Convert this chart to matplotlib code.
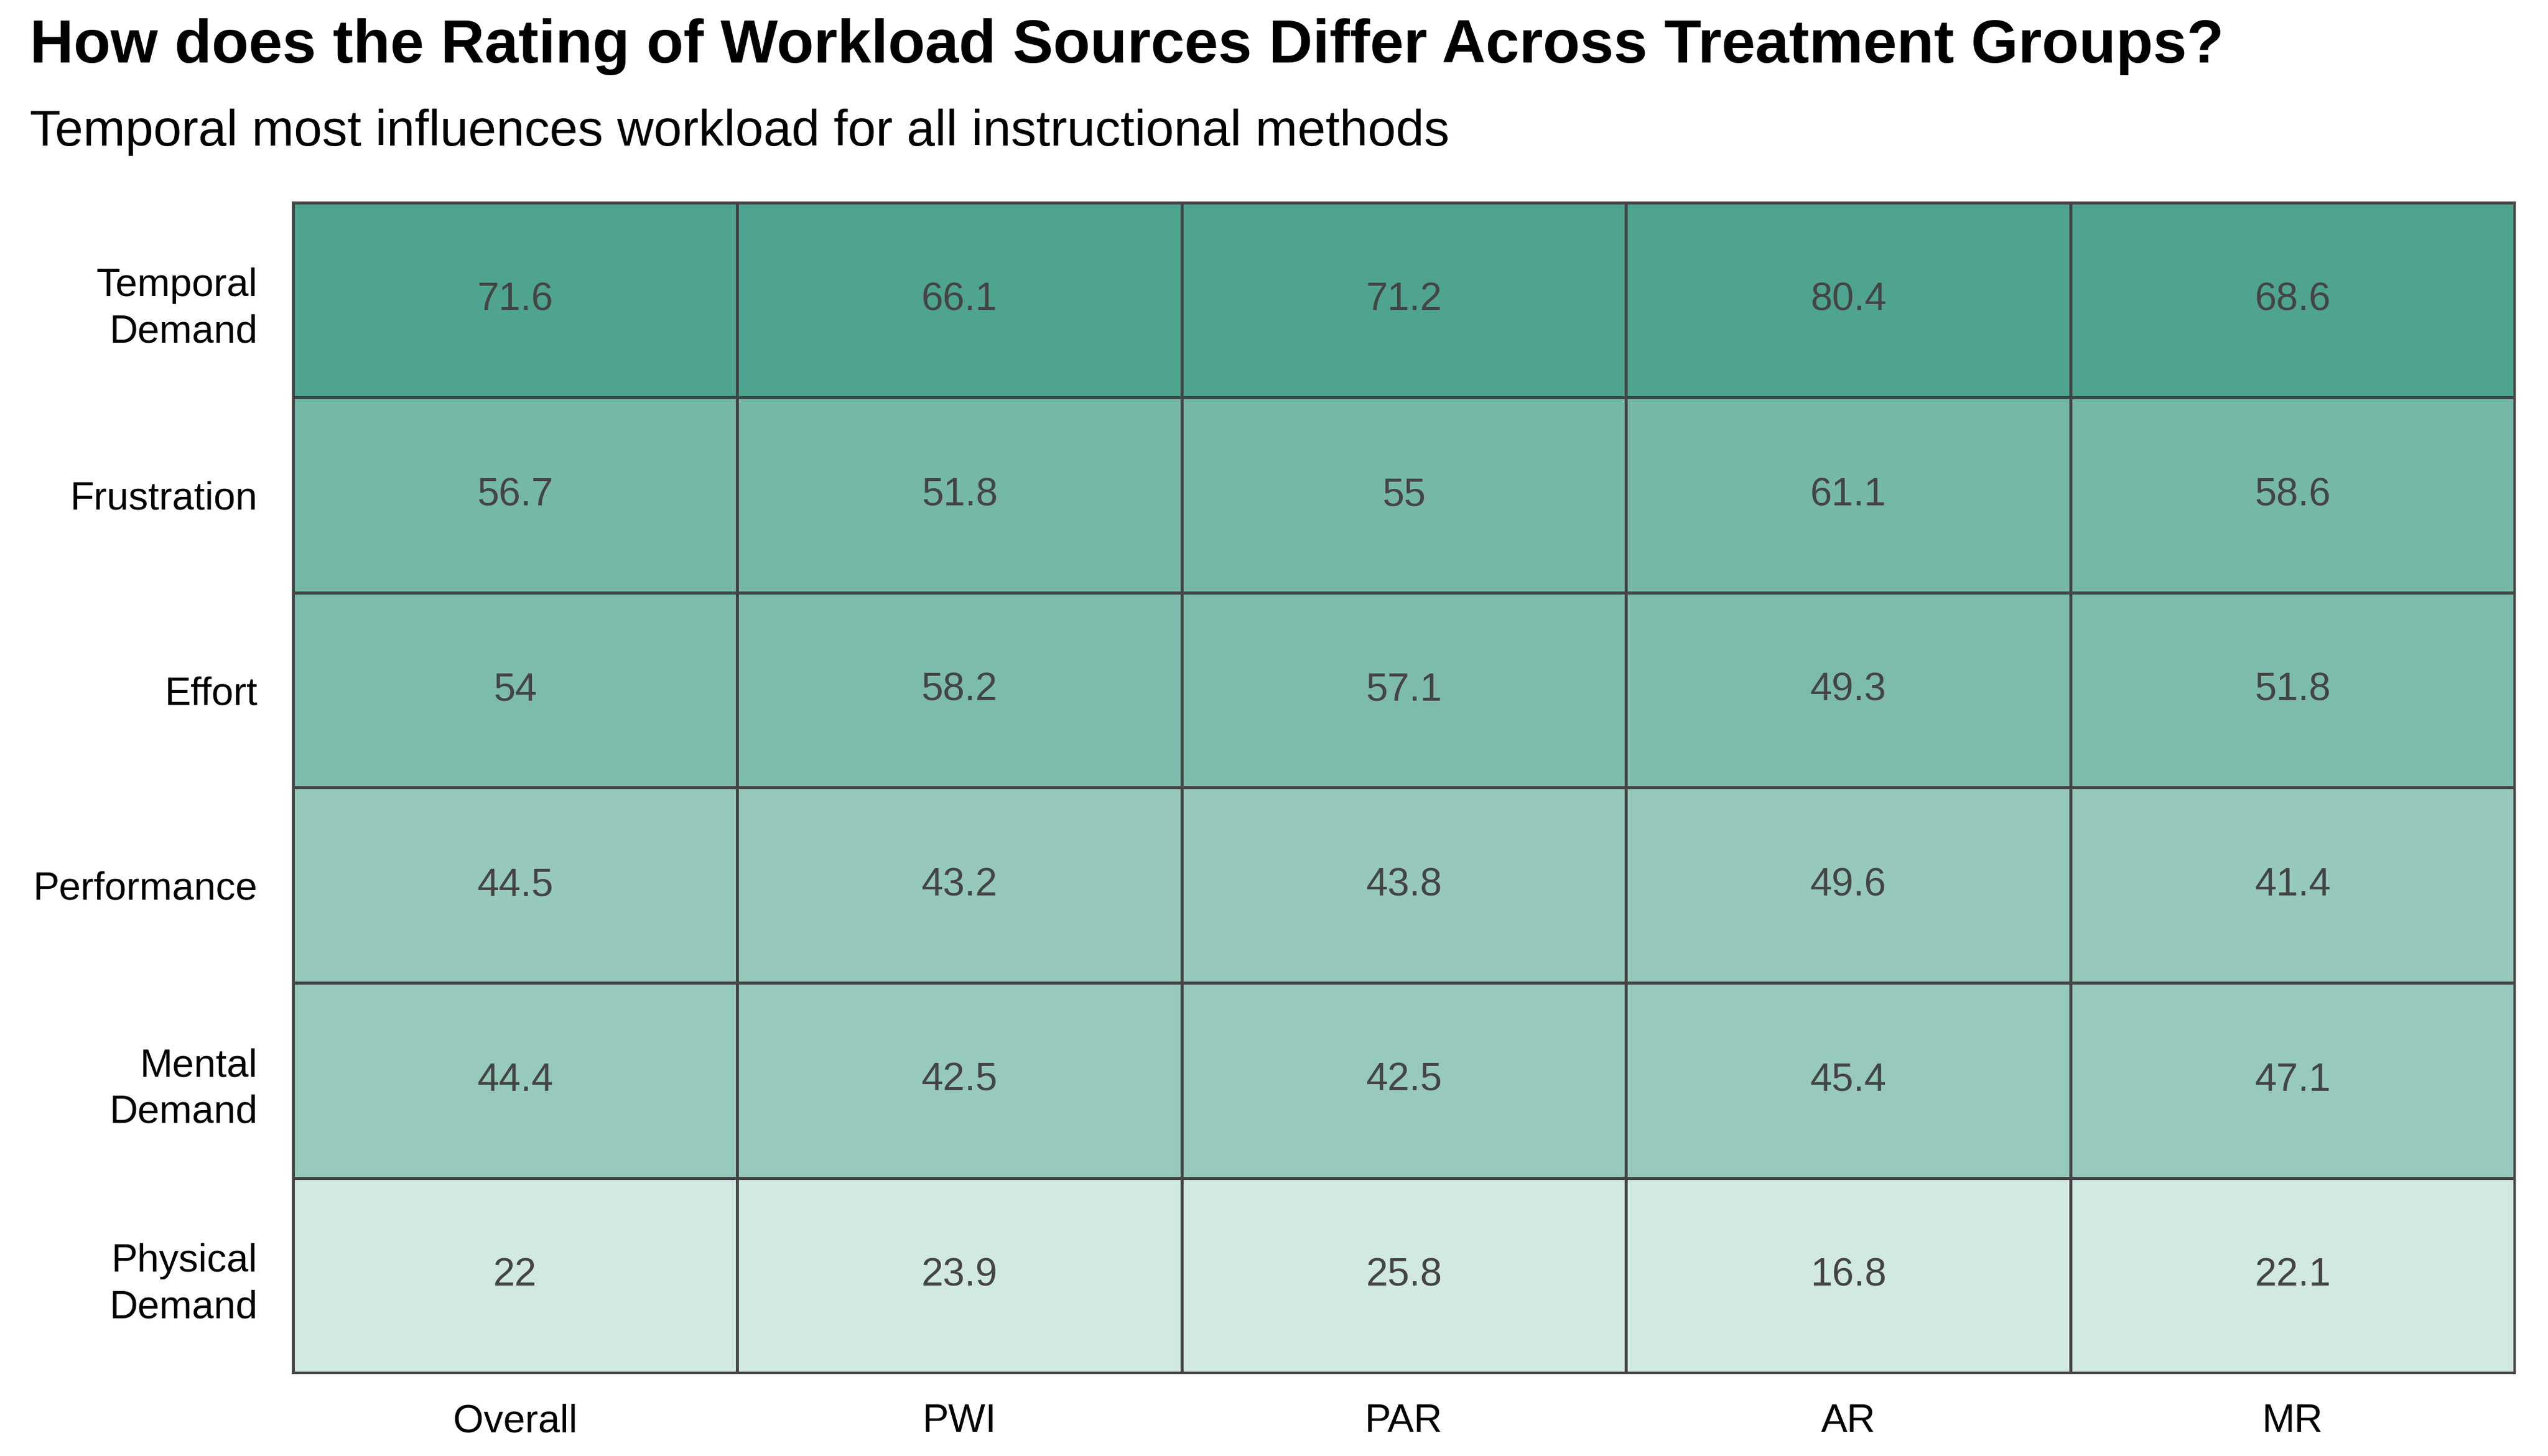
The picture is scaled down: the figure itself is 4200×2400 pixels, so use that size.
import numpy as np
import matplotlib.pyplot as plt
from matplotlib.colors import LinearSegmentedColormap

plt.rcParams['font.family'] = ['Liberation Sans', 'DejaVu Sans']

sources = ["Temporal\nDemand", "Frustration", "Effort", "Performance", "Mental\nDemand", "Physical\nDemand"]
groups = ["Overall", "PWI", "PAR", "AR", "MR"]

overall = [71.6, 56.7, 54, 44.5, 44.4, 22]
pwi = [66.1, 51.8, 58.2, 43.2, 42.5, 23.9]
par = [71.2, 55, 57.1, 43.8, 42.5, 25.8]
ar = [80.4, 61.1, 49.3, 49.6, 45.4, 16.8]
mr = [68.6, 58.6, 51.8, 41.4, 47.1, 22.1]

values = np.array([overall, pwi, par, ar, mr]).T
# each row is shaded by its overall rating
shade = np.repeat(np.array(overall)[:, None], len(groups), axis=1)

cmap = LinearSegmentedColormap.from_list("teal", ["#d2e8e2", "#4fa48f"])

fig = plt.figure(figsize=(14, 8), dpi=300)
ax = fig.add_axes([0.115, 0.057, 0.872, 0.804])

nrow, ncol = values.shape
ax.pcolormesh(np.arange(ncol + 1), np.arange(nrow + 1), shade, cmap=cmap,
              vmin=min(overall), vmax=max(overall), edgecolors="#444444", linewidth=0.75)
ax.set_xlim(0, ncol)
ax.set_ylim(nrow, 0)

def fmt(v):
    return ("%.1f" % v).rstrip("0").rstrip(".")

for i in range(nrow):
    for j in range(ncol):
        ax.text(j + 0.5, i + 0.5, fmt(values[i, j]), ha="center", va="center",
                fontsize=15.5, color="#444444")

ax.set_xticks(np.arange(ncol) + 0.5)
ax.set_xticklabels(groups, fontsize=15.5)
ax.set_yticks(np.arange(nrow) + 0.5)
ax.set_yticklabels(sources, fontsize=15.5, ha="right", multialignment="right", linespacing=1.35)
ax.tick_params(axis="x", length=0, pad=12)
ax.tick_params(axis="y", length=0, pad=14)
for s in ax.spines.values():
    s.set_color("#444444")
    s.set_linewidth(0.9)

fig.text(0.0117, 0.968, "How does the Rating of Workload Sources Differ Across Treatment Groups?",
         fontsize=24, fontweight="bold", va="center", ha="left")
fig.text(0.0117, 0.909, "Temporal most influences workload for all instructional methods",
         fontsize=20, va="center", ha="left")

fig.savefig("out.png", dpi=300)
